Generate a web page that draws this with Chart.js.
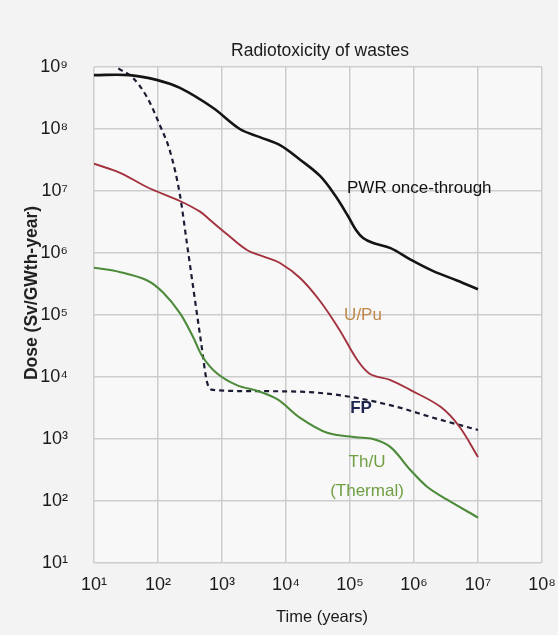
<!DOCTYPE html>
<html>
<head>
<meta charset="utf-8">
<script src="https://cdn.jsdelivr.net/npm/chart.js@4/dist/chart.umd.min.js"></script>
<style>
  html, body { margin: 0; padding: 0; background: #f3f3f3; }
  #wrap { width: 558px; height: 635px; position: relative; }
</style>
</head>
<body>
<div id="wrap"><canvas id="c" width="558" height="635"></canvas></div>
<script>
// ---- Data ----
const chartTitle = "Radiotoxicity of wastes";
const xAxisTitle = "Time (years)";
const yAxisTitle = "Dose (Sv/GWth-year)";

const xTickValues = [1e1, 1e2, 1e3, 1e4, 1e5, 1e6, 1e7, 1e8];
const yTickValues = [1e1, 1e2, 1e3, 1e4, 1e5, 1e6, 1e7, 1e8, 1e9];

const pwrYears = [10, 36, 95, 220, 720, 1900, 3900, 8050, 16600, 34000, 58000, 93000, 124000, 160000, 230000, 430000, 870000, 2000000, 4700000, 10000000];
const pwrDose  = [7.4e8, 7.4e8, 6.2e8, 4.6e8, 2.2e8, 1.0e8, 7.4e7, 5.5e7, 3.2e7, 1.75e7, 8.6e6, 3.95e6, 2.35e6, 1.75e6, 1.45e6, 1.2e6, 7.9e5, 5.1e5, 3.6e5, 2.6e5];

const uPuYears = [10, 26, 68, 220, 460, 650, 1240, 2460, 4700, 8050, 16600, 34000, 69000, 130000, 205000, 420000, 870000, 2600000, 5200000, 10000000];
const uPuDose  = [2.75e7, 1.95e7, 1.15e7, 6.9e6, 4.6e6, 3.4e6, 1.95e6, 1.12e6, 8.6e5, 6.9e5, 3.95e5, 1.68e5, 5.7e4, 1.88e4, 1.12e4, 9.0e3, 6.2e3, 3.3e3, 1.55e3, 510];

const thUYears = [10, 26, 68, 120, 220, 350, 500, 830, 1700, 3900, 7500, 16600, 44000, 123000, 230000, 430000, 870000, 1600000, 3300000, 10000000];
const thUDose  = [5.8e5, 4.9e5, 3.6e5, 2.3e5, 1.07e5, 4.5e4, 2.1e4, 1.15e4, 7.4e3, 5.8e3, 4.3e3, 2.2e3, 1.26e3, 1.07e3, 1.0e3, 740, 320, 170, 105, 54];

const fpYears = [24, 41, 68, 107, 155, 220, 284, 365, 470, 583, 720, 3900, 16600, 100000, 600000, 2000000, 10000000];
const fpDose  = [9.5e8, 6.6e8, 3.2e8, 1.15e8, 4.3e7, 8.7e6, 1.4e6, 2.26e5, 3.67e4, 8.3e3, 6.2e3, 5.9e3, 5.8e3, 4.8e3, 3.2e3, 2.2e3, 1.4e3];

const seriesLabels = ["PWR once-through", "U/Pu", "FP", "Th/U", "(Thermal)"];

// ---- helpers ----
const SUP = {'0':'⁰','1':'¹','2':'²','3':'³','4':'⁴','5':'⁵','6':'⁶','7':'⁷','8':'⁸','9':'⁹','-':'⁻'};
function pow10Label(v) {
  const e = Math.round(Math.log10(v));
  return '10' + String(e).split('').map(c => SUP[c]).join('');
}
function pts(xs, ys) { return xs.map((x, i) => ({x: x, y: ys[i]})); }

const FONT = '"Liberation Sans", Arial, sans-serif';

const textPlugin = {
  id: 'texts',
  beforeDraw(chart) {
    const ctx = chart.ctx;
    const a = chart.chartArea;
    ctx.save();
    ctx.fillStyle = '#f3f3f3';
    ctx.fillRect(0, 0, chart.width, chart.height);
    ctx.fillStyle = '#f8f8f8';
    ctx.fillRect(a.left, a.top, a.right - a.left, a.bottom - a.top);
    ctx.restore();
  },
  afterDraw(chart) {
    const ctx = chart.ctx;
    ctx.save();
    ctx.textAlign = 'center';
    ctx.textBaseline = 'middle';
    // title
    ctx.fillStyle = '#1a1a1a';
    ctx.font = '17.5px ' + FONT;
    ctx.fillText(chartTitle, 320, 51);
    // x axis title
    ctx.font = '16.5px ' + FONT;
    ctx.fillText(xAxisTitle, 322, 617);
    // y axis title
    ctx.save();
    ctx.translate(32, 293);
    ctx.rotate(-Math.PI / 2);
    ctx.font = 'bold 17.5px ' + FONT;
    ctx.fillStyle = '#222';
    ctx.fillText(yAxisTitle, 0, 0);
    ctx.restore();
    // series labels
    ctx.font = '17px ' + FONT;
    ctx.fillStyle = '#111';
    ctx.textAlign = 'left';
    ctx.fillText(seriesLabels[0], 347, 188);
    ctx.textAlign = 'center';
    ctx.fillStyle = '#c0874a';
    ctx.fillText(seriesLabels[1], 363, 315);
    ctx.fillStyle = '#1d2550';
    ctx.font = 'bold 17px ' + FONT;
    ctx.fillText(seriesLabels[2], 361, 408);
    ctx.font = '17px ' + FONT;
    ctx.fillStyle = '#6f9f42';
    ctx.fillText(seriesLabels[3], 367, 462);
    ctx.fillText(seriesLabels[4], 367, 491);
    ctx.restore();
  }
};

const smooth = { showLine: true, pointRadius: 0, tension: 0.35 };

new Chart(document.getElementById('c'), {
  type: 'scatter',
  data: {
    datasets: [
      Object.assign({ label: 'PWR once-through', data: pts(pwrYears, pwrDose), borderColor: '#141414', borderWidth: 2.6 }, smooth),
      Object.assign({ label: 'U/Pu', data: pts(uPuYears, uPuDose), borderColor: '#a3323f', borderWidth: 1.9 }, smooth),
      Object.assign({ label: 'Th/U', data: pts(thUYears, thUDose), borderColor: '#4d8a3a', borderWidth: 2.1 }, smooth),
      { label: 'FP', data: pts(fpYears, fpDose), showLine: true, borderColor: '#1a1d33', borderWidth: 2.2, borderDash: [5, 4], pointRadius: 0, cubicInterpolationMode: 'monotone' }
    ]
  },
  options: {
    responsive: false,
    animation: false,
    layout: { padding: { left: 0, right: 16, top: 67, bottom: 0 } },
    plugins: { legend: { display: false }, tooltip: { enabled: false }, title: { display: false } },
    scales: {
      x: {
        type: 'logarithmic',
        min: 10, max: 1e8,
        afterBuildTicks: (s) => { s.ticks = xTickValues.map(v => ({ value: v })); },
        afterFit: (s) => { s.height = 72; s.paddingLeft = 0; s.paddingRight = 0; },
        border: { display: false },
        grid: { color: '#cdcdcd', lineWidth: 1.5, drawTicks: false },
        ticks: { callback: (v) => pow10Label(v), color: '#1a1a1a', font: { family: FONT, size: 18 }, padding: 11, maxRotation: 0, autoSkip: false }
      },
      y: {
        type: 'logarithmic',
        min: 10, max: 1e9,
        afterBuildTicks: (s) => { s.ticks = yTickValues.map(v => ({ value: v })); },
        afterFit: (s) => { s.width = 94; s.paddingTop = 0; s.paddingBottom = 0; },
        border: { display: false },
        grid: { color: '#cdcdcd', lineWidth: 1.5, drawTicks: false },
        ticks: { callback: (v) => pow10Label(v), color: '#1a1a1a', font: { family: FONT, size: 18 }, padding: 26, autoSkip: false }
      }
    }
  },
  plugins: [textPlugin]
});
</script>
</body>
</html>
